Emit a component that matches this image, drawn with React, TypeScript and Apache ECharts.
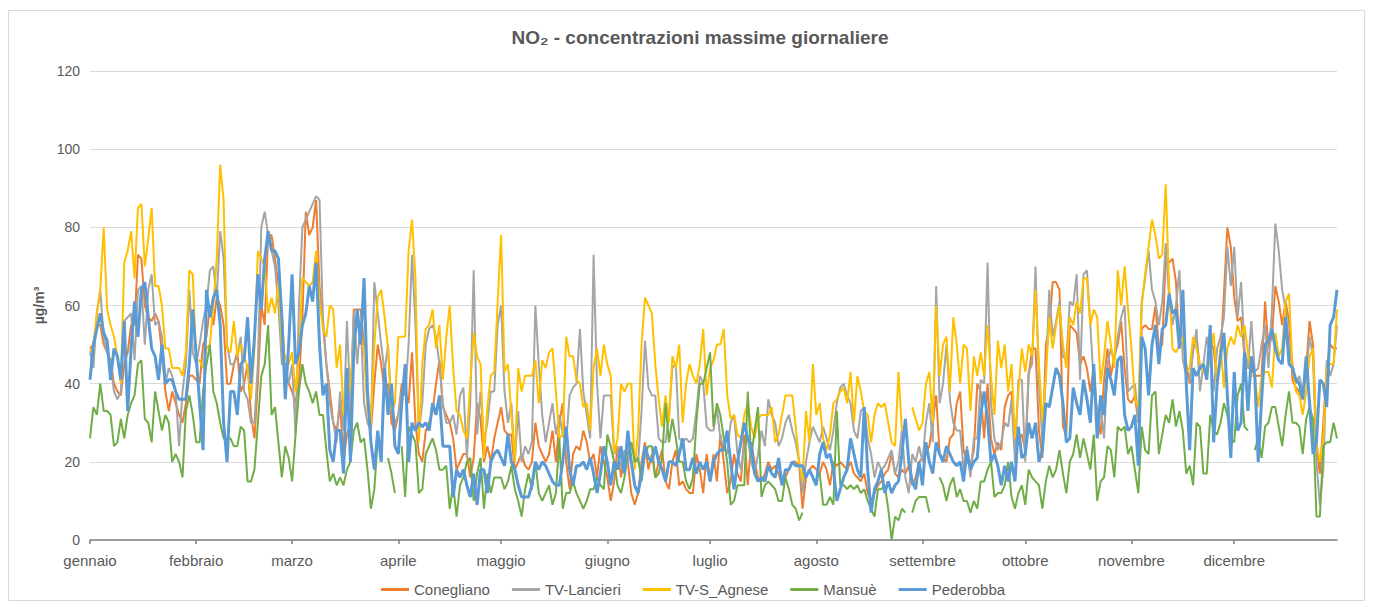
import React, { useEffect, useRef } from "react";
import * as echarts from "echarts";

const monthNames = ["gennaio", "febbraio", "marzo", "aprile", "maggio", "giugno", "luglio", "agosto", "settembre", "ottobre", "novembre", "dicembre"];
const monthLengths = [31, 28, 31, 30, 31, 30, 31, 31, 30, 31, 30, 31];
const seriesNames = ["Conegliano", "TV-Lancieri", "TV-S_Agnese", "Mansuè", "Pederobba"];
const seriesColors = ["#ED7D31", "#A5A5A5", "#FFC000", "#70AD47", "#5B9BD5"];

// daily maxima, one row per month (gen..dic)
const conegliano: (number | null)[] = [
  49,50,55,55,50,48,46,40,38,37,45,48,55,55,73,72,60,57,56,58,56,48,38,33,38,35,32,30,35,42,42,
  41,40,50,52,60,55,62,60,55,40,40,45,48,38,40,45,32,26,40,60,55,78,78,72,65,58,42,40,
  38,35,40,57,84,78,80,87,65,55,45,38,30,28,35,20,27,30,59,59,59,50,35,28,40,50,45,38,40,30,28,
  32,40,38,35,48,30,22,20,28,30,33,40,46,34,32,30,26,18,20,22,22,16,21,35,31,20,24,20,26,30,
  34,28,27,27,18,20,22,19,18,20,30,24,22,20,22,28,20,30,35,20,13,22,24,23,28,25,20,22,16,24,20,
  16,10,15,24,16,22,20,12,9,12,20,25,18,22,16,20,23,15,13,20,23,14,15,13,12,12,22,18,12,22,
  15,22,15,27,20,12,15,22,17,15,27,14,25,20,16,15,17,20,18,19,17,14,16,18,20,20,19,8,16,18,19,
  18,17,20,18,14,20,19,20,19,18,20,17,16,15,17,12,10,12,14,15,17,18,22,17,16,18,17,19,14,16,20,
  21,22,24,30,37,22,21,20,26,27,35,38,23,20,19,23,40,38,26,40,26,22,25,23,34,37,38,25,26,27,
  23,42,49,49,28,21,50,54,66,66,64,29,27,55,54,53,45,47,44,38,44,31,27,41,49,42,47,50,56,44,36,
  35,37,30,54,55,54,54,60,49,50,72,71,72,66,49,52,45,40,49,52,44,45,41,51,49,40,47,63,80,75,
  62,56,57,47,44,44,42,42,42,61,49,52,65,61,55,61,56,41,39,38,36,44,56,50,24,17,30,44,50,49,49,
];

const tvLancieri: (number | null)[] = [
  48,44,58,64,52,48,45,38,36,38,56,57,58,46,64,65,50,64,68,55,56,52,40,44,42,38,24,38,45,64,48,
  45,50,56,60,69,70,62,79,72,50,45,45,47,52,38,36,30,30,45,80,84,78,74,70,60,45,45,40,
  45,27,60,80,82,84,86,88,87,57,45,35,30,25,38,28,56,35,58,45,56,35,30,28,66,58,50,43,50,33,30,
  32,38,37,50,73,55,28,35,50,54,55,52,45,35,30,30,32,27,37,39,21,35,69,27,38,25,30,38,38,55,
  60,38,30,35,20,33,20,24,22,25,60,45,32,25,30,35,27,32,27,25,37,39,40,54,38,32,26,73,40,26,37,
  37,37,22,23,18,23,19,25,21,20,33,51,39,37,37,26,25,25,32,44,45,26,25,26,25,26,33,42,40,29,
  28,28,34,26,24,22,30,32,22,18,24,26,20,17,22,28,24,36,32,30,24,26,30,32,28,25,20,12,20,25,29,
  27,25,29,26,23,28,35,39,40,37,35,28,26,33,34,26,22,16,20,18,19,21,23,17,20,28,16,12,22,20,24,
  20,30,35,25,65,35,40,50,36,30,28,28,18,24,16,26,26,41,40,71,35,26,23,25,30,29,36,20,41,41,
  20,43,45,70,40,25,42,64,52,56,61,47,46,61,60,68,41,68,69,55,40,33,34,26,45,49,46,52,57,60,38,
  39,40,30,61,67,74,64,61,55,61,76,62,55,60,69,46,42,41,48,54,38,45,52,47,38,49,52,57,75,65,
  75,57,66,49,44,56,43,44,50,55,44,59,81,74,64,59,49,45,40,42,38,42,52,47,20,9,18,46,42,45,55,
];

const tvSAgnese: (number | null)[] = [
  48,50,58,64,80,59,55,52,47,40,71,74,79,67,85,86,70,77,85,65,65,60,49,49,44,44,44,42,48,69,68,
  46,46,44,49,50,60,72,96,87,49,48,56,47,50,47,44,36,49,74,72,70,58,62,58,66,50,47,45,
  48,38,47,67,66,65,66,74,61,54,52,60,59,44,50,32,35,40,50,59,52,49,33,30,50,62,64,57,49,33,35,
  52,52,52,74,82,67,25,45,54,55,59,49,55,41,52,60,44,33,32,28,26,40,53,47,45,21,34,42,43,61,
  78,43,45,32,20,44,38,42,42,42,46,35,46,44,48,49,38,26,27,52,47,47,41,40,34,35,28,44,49,42,50,
  45,42,22,26,40,38,40,40,18,28,50,62,60,58,45,36,29,37,30,47,44,50,30,40,45,42,40,45,54,37,
  44,46,50,50,54,37,31,32,27,26,32,35,29,26,31,32,32,32,34,25,27,32,37,37,37,29,20,15,33,25,45,
  32,35,26,23,27,35,36,38,39,35,43,30,42,38,33,32,25,32,35,34,35,30,25,24,43,28,null,null,34,31,28,
  30,40,43,30,60,42,50,52,38,57,50,40,50,49,33,47,42,48,42,55,42,32,51,44,50,38,45,26,38,49,
  43,50,47,64,45,30,41,57,49,55,60,50,44,57,55,61,58,67,67,55,59,57,40,47,56,50,44,69,60,70,59,
  49,36,34,60,68,75,82,78,72,73,91,65,49,48,50,52,43,44,52,49,45,43,42,47,53,40,50,39,49,52,
  50,55,52,55,48,42,42,34,42,43,43,39,53,47,49,61,63,44,38,37,32,38,47,49,25,20,26,44,45,45,59,
];

const mansue: (number | null)[] = [
  26,34,32,40,33,33,32,24,25,31,26,32,35,37,45,46,31,30,25,38,33,28,32,30,20,22,20,16,33,37,32,
  25,25,38,45,50,38,35,30,26,26,26,24,24,29,28,15,15,18,30,42,45,55,32,34,25,16,24,21,
  15,27,38,45,40,38,35,38,32,32,23,15,17,14,16,14,18,20,28,30,25,26,18,8,13,26,null,null,21,17,12,
  null,24,11,29,27,25,12,13,22,24,26,23,18,18,19,8,14,6,14,16,20,21,10,17,21,8,17,12,16,16,
  16,13,15,19,13,10,6,13,17,13,20,12,10,12,14,9,12,26,8,12,12,15,12,10,8,10,13,13,16,14,13,
  27,24,20,14,12,16,22,25,20,21,15,22,24,24,16,17,21,35,25,31,26,20,20,15,13,16,30,40,40,44,
  48,29,35,32,26,20,9,10,14,14,14,38,21,28,34,11,14,15,14,13,10,10,16,13,9,8,5,7,null,null,null,
  16,17,9,9,11,9,33,14,14,13,14,13,14,12,13,10,8,6,13,13,14,8,0,6,5,8,7,null,7,10,11,
  11,11,7,null,null,16,14,10,14,16,11,13,10,10,7,10,8,15,15,18,20,11,12,12,14,20,11,8,12,14,
  9,18,16,15,14,8,15,19,16,18,23,17,12,20,22,27,21,26,22,18,27,10,15,16,24,23,16,29,28,29,22,
  24,18,12,29,23,22,37,38,22,27,32,30,36,29,33,28,17,19,14,30,29,17,17,32,28,27,30,35,32,26,
  25,37,40,29,28,null,23,26,21,29,30,34,34,29,24,32,38,30,30,29,22,31,34,31,6,6,24,25,25,30,26,
];

const pederobba: (number | null)[] = [
  41,50,54,58,53,51,41,49,47,41,56,33,49,61,52,64,66,57,49,47,41,50,40,41,41,38,36,36,36,45,59,
  47,35,23,64,57,62,64,55,30,20,38,38,32,45,46,57,40,52,68,59,72,79,74,74,72,57,36,50,
  68,45,48,55,58,65,61,71,50,37,40,23,20,28,28,17,44,20,48,59,50,67,38,25,18,28,20,44,32,40,24,
  22,35,45,20,30,28,30,29,30,28,35,32,37,24,24,24,11,18,16,18,14,11,17,9,18,18,12,20,22,23,
  21,19,27,20,18,14,11,11,11,14,20,18,20,19,17,15,14,14,20,29,18,14,19,19,20,18,21,17,12,17,24,
  20,14,20,18,24,17,28,20,14,12,17,24,21,20,24,20,18,15,20,20,19,22,26,18,18,21,17,20,18,20,
  15,20,22,23,23,28,20,13,20,25,30,26,24,17,15,16,15,19,17,16,21,14,18,18,20,19,19,19,16,18,16,
  14,22,25,21,22,18,10,13,16,18,26,22,18,16,34,18,7,13,15,18,12,15,12,14,15,22,31,20,15,13,20,
  14,25,20,17,25,22,20,24,22,20,19,20,15,23,18,20,21,32,38,31,20,22,19,14,19,15,20,15,29,21,
  22,30,26,30,20,23,35,34,39,44,42,35,25,26,39,35,32,41,36,30,45,26,37,32,44,41,37,46,47,32,28,
  29,32,19,52,49,37,50,55,45,54,55,63,58,59,49,64,40,23,44,42,44,45,41,55,25,40,47,53,37,21,
  43,28,30,48,33,47,42,20,36,50,51,54,49,46,45,57,45,44,41,40,36,47,35,22,25,41,40,34,55,57,64,
];

const seriesData = [conegliano, tvLancieri, tvSAgnese, mansue, pederobba];

const categories: string[] = [];
const monthAtIndex: Record<number, string> = {};
monthLengths.forEach((len, m) => {
  monthAtIndex[categories.length] = monthNames[m];
  for (let d = 1; d <= len; d++) categories.push(`${d} ${monthNames[m]}`);
});

const FONT = "'Liberation Sans', Arial, sans-serif";

export default function App() {
  const ref = useRef<HTMLDivElement>(null);
  useEffect(() => {
    if (!ref.current) return;
    const chart = echarts.init(ref.current, undefined, { renderer: "svg" });
    const isMonthStart = (i: number) => monthAtIndex[i] !== undefined;
    chart.setOption({
      animation: false,
      backgroundColor: "#ffffff",
      textStyle: { fontFamily: FONT },
      graphic: [
        {
          type: "rect",
          shape: { x: 8.5, y: 10.5, width: 1356, height: 590 },
          style: { fill: "none", stroke: "#d9d9d9", lineWidth: 1 },
          silent: true,
        },
      ],
      title: {
        text: "NO₂ - concentrazioni massime giornaliere",
        left: 695,
        textAlign: "center",
        top: 23,
        textStyle: { fontFamily: FONT, fontSize: 19, fontWeight: "bold", color: "#595959" },
      },
      legend: {
        data: seriesNames,
        left: 376,
        top: 577,
        icon: "rect",
        itemWidth: 28,
        itemHeight: 3,
        itemGap: 22,
        textStyle: { fontFamily: FONT, fontSize: 15, color: "#595959" },
      },
      grid: { left: 90, right: 36, top: 71, bottom: 67, containLabel: false },
      xAxis: {
        type: "category",
        data: categories,
        boundaryGap: false,
        axisLine: { lineStyle: { color: "#808080", width: 1.5 } },
        axisTick: { show: true, interval: (i: number) => isMonthStart(i), length: 4, lineStyle: { color: "#808080", width: 1.5 } },
        axisLabel: {
          interval: (i: number) => isMonthStart(i),
          formatter: (_v: string, i: number) => monthAtIndex[i] ?? "",
          color: "#595959",
          fontSize: 15,
          fontFamily: FONT,
          margin: 13,
        },
        splitLine: { show: false },
      },
      yAxis: {
        type: "value",
        min: 0,
        max: 120,
        interval: 20,
        axisLine: { show: false },
        axisTick: { show: false },
        axisLabel: { color: "#595959", fontSize: 14, fontFamily: FONT, margin: 10 },
        splitLine: { lineStyle: { color: "#d9d9d9", width: 1 } },
        name: "µg/m³",
        nameLocation: "middle",
        nameRotate: 90,
        nameGap: 44,
        nameTextStyle: { fontFamily: FONT, fontSize: 14, fontWeight: "bold", color: "#595959" },
      },
      series: seriesNames.map((name, k) => ({
        name,
        type: "line",
        data: seriesData[k],
        showSymbol: false,
        symbol: "none",
        connectNulls: false,
        color: seriesColors[k],
        lineStyle: { color: seriesColors[k], width: k === 4 ? 3 : 2 },
        emphasis: { disabled: true },
      })),
    });
    return () => chart.dispose();
  }, []);
  return <div ref={ref} style={{ position: "fixed", left: 0, top: 0, width: 1373, height: 607 }} />;
}
